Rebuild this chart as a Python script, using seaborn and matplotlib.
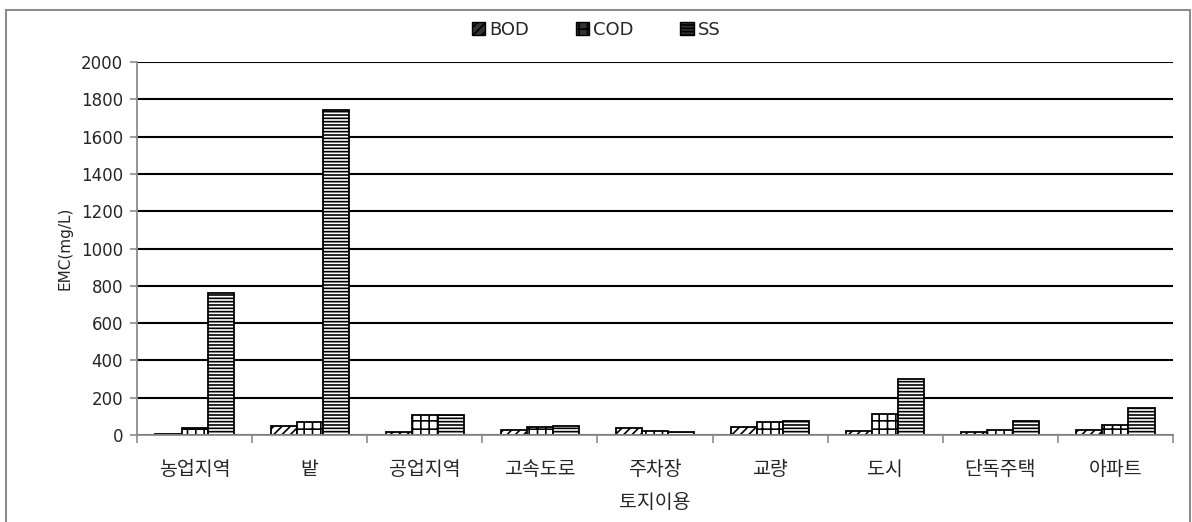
import seaborn as sns
import pandas as pd
import matplotlib.pyplot as plt
from matplotlib.patches import Rectangle
from matplotlib.ticker import MultipleLocator, FixedLocator

land_use = ["농업지역", "밭", "공업지역", "고속도로", "주차장", "교량", "도시", "단독주택", "아파트"]
bod = [5, 48, 14, 27, 36, 41, 23, 14, 29]
cod = [38, 70, 105, 43, 21, 70, 114, 28, 56]
ss = [760, 1745, 105, 50, 16, 77, 298, 77, 146]
series = ["BOD", "COD", "SS"]

df = pd.DataFrame({"land": land_use, "BOD": bod, "COD": cod, "SS": ss})
long = df.melt(id_vars="land", var_name="param", value_name="emc")

sns.set_style("white")
plt.rcParams["font.family"] = ["DejaVu Sans", "Noto Sans CJK KR"]
plt.rcParams["hatch.linewidth"] = 1.2
kr = ["Noto Sans CJK KR", "DejaVu Sans"]

fig = plt.figure(figsize=(11.92, 5.22), dpi=100)
ax = fig.add_axes([137 / 1192, 1 - 435 / 522, (1173 - 137) / 1192, (435 - 62) / 522])

ax = sns.barplot(data=long, x="land", y="emc", hue="param", hue_order=series,
                 color="white", width=0.68, saturation=1, edgecolor="black",
                 linewidth=1.3, ax=ax, legend=False)

hatches = {"BOD": "////", "COD": "++", "SS": "-----"}
for cont, name in zip(ax.containers, series):
    for bar in cont:
        bar.set_facecolor("white")
        bar.set_hatch(hatches[name])

ax.set_ylim(0, 2000)
ax.set_xlim(-0.5, len(land_use) - 0.5)
ax.yaxis.set_major_locator(MultipleLocator(200))
ax.grid(axis="y", color="black", linewidth=1.5)
ax.set_axisbelow(True)

for s in ["top", "right"]:
    ax.spines[s].set_visible(False)
for s in ["left", "bottom"]:
    ax.spines[s].set_color("#8c8c8c")
    ax.spines[s].set_linewidth(1.3)

ax.tick_params(axis="y", length=5, color="#8c8c8c", width=1.2, labelsize=12, pad=5, left=True)
ax.tick_params(axis="x", which="major", length=0, pad=17)
ax.xaxis.set_minor_locator(FixedLocator([i - 0.5 for i in range(len(land_use) + 1)]))
ax.tick_params(axis="x", which="minor", length=6, color="#8c8c8c", width=1.2, bottom=True)
for lab in ax.get_xticklabels():
    lab.set_family(kr)
    lab.set_fontsize(14)

ax.set_xlabel("토지이용", fontsize=14, labelpad=9, family=kr)
ax.set_ylabel("EMC(mg/L)", fontsize=11, labelpad=6)

handles = [Rectangle((0, 0), 1, 1, facecolor="#333333", edgecolor="black", hatch=hatches[n])
           for n in series]
fig.legend(handles, series, loc="center", bbox_to_anchor=(0.5, 1 - 30 / 522), ncol=3,
           frameon=False, fontsize=13, handlelength=0.75, handleheight=0.75,
           columnspacing=2.6, handletextpad=0.2)

fig.patches.append(Rectangle((6 / 1192, -0.01), (1190 - 6) / 1192, 1 - 10 / 522 + 0.01,
                             transform=fig.transFigure, fill=False,
                             edgecolor="#8c8c8c", linewidth=1.5))

plt.savefig("out.png", dpi=100)
